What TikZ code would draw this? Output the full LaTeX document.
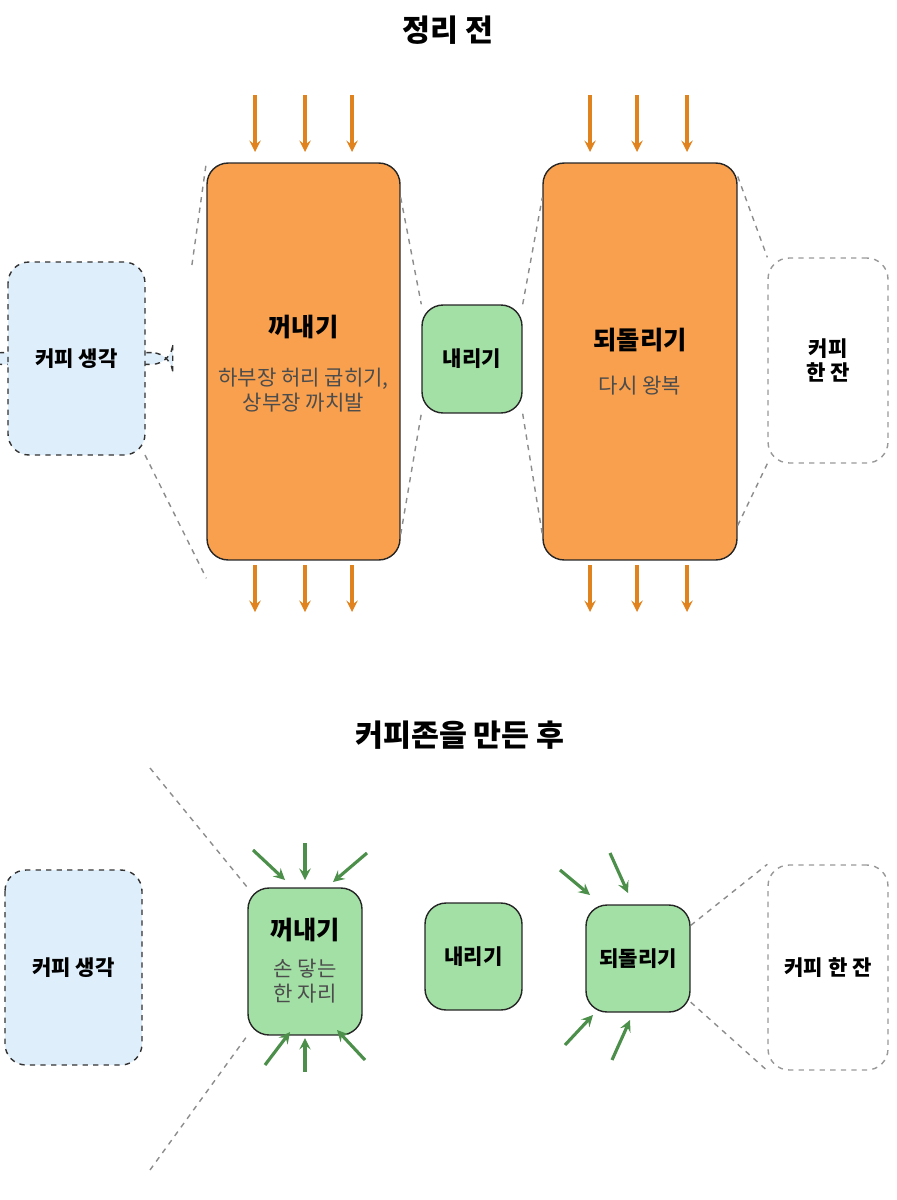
\documentclass[tikz,border=0pt]{standalone}
\usepackage{fontspec}
\setmainfont{Noto Sans CJK KR}
\usetikzlibrary{positioning}
\definecolor{taskorange}{HTML}{F8A04E}
\definecolor{taskgreen}{HTML}{A3E0A6}
\definecolor{ideablue}{HTML}{DFEEFB}
\definecolor{arroworange}{HTML}{E0821E}
\definecolor{arrowgreen}{HTML}{4C8F4A}
\begin{document}
\begin{tikzpicture}[x=0.02cm, y=-0.02cm,
    task/.style={draw=black!85, thick, rounded corners=12pt, align=center, inner sep=0pt},
    big/.style={task, fill=taskorange},
    small/.style={task, fill=taskgreen, font=\bfseries\large},
    idea/.style={draw=black!80, thick, dashed, rounded corners=12pt, fill=ideablue,
                 font=\bfseries\large, align=center},
    cup/.style={draw=black!40, thick, dashed, rounded corners=12pt, fill=white,
                font=\bfseries\large, align=center},
    guide/.style={draw=black!45, thick, dashed},
    push/.style={->, line width=1.8pt, arroworange, >=stealth},
    pull/.style={->, line width=1.8pt, arrowgreen, >=stealth},
    title/.style={font=\bfseries\LARGE},
  ]
  \useasboundingbox (0,0) rectangle (896,1200);

  % before
  \node[title] (before) at (448,30) {정리 전};
  \node[idea, minimum width=137\pgflinewidth] (think1) at (76.5,358.5) {};
  \path (8,262) coordinate (t1a) (145,455) coordinate (t1b);
  \draw[idea] (t1a) rectangle (t1b);
  \node[font=\bfseries\large] (think1) at (76.5,358.5) {커피 생각};
  \node[big, minimum width=3.86cm, minimum height=7.94cm] (take1) at (303.5,361.5) {};
  \node[font=\bfseries\Large] (take1t) at (303.5,327) {꺼내기};
  \node[text=black!70, align=center, font=\large] (take1s) at (303.5,390) {하부장 허리 굽히기,\\상부장 까치발};
  \node[small, minimum width=2cm, minimum height=2.16cm] (brew1) at (472,359) {내리기};
  \node[big, minimum width=3.88cm, minimum height=7.94cm] (back1) at (640,361.5) {};
  \node[font=\bfseries\Large] (back1t) at (640,340) {되돌리기};
  \node[text=black!70, font=\large] (back1s) at (640,386) {다시 왕복};
  \node[cup, minimum width=2.4cm, minimum height=4.1cm] (cup1) at (828,360.5) {커피\\한 잔};

  \draw[guide] (think1.north east |- t1a) ++(68,3) -- (take1.north west);
  \draw[guide] (145,455) -- ([yshift=-10]take1.south west);
  \draw[guide] ([yshift=-20]take1.north east) -- (brew1.north west);
  \draw[guide] ([yshift=15]take1.south east) -- (brew1.south west);
  \draw[guide] (brew1.north east) -- ([yshift=-20]back1.north west);
  \draw[guide] (brew1.south east) -- ([yshift=15]back1.south west);
  \draw[guide] ([yshift=-8]back1.north east) -- (cup1.north west);
  \draw[guide] ([yshift=20]back1.south east) -- (cup1.south west);

  \foreach \x in {255,305,352,590,637,687} {
    \coordinate (in\x) at (\x,95);
    \coordinate (inend\x) at (\x,152);
    \coordinate (out\x) at (\x,565);
    \coordinate (outend\x) at (\x,612);
    \draw[push] (in\x) -- (inend\x);
    \draw[push] (out\x) -- (outend\x);
  }

  % after
  \node[title] (after) at (460,735) {커피존을 만든 후};
  \path (5,870) coordinate (t2a) (142,1065) coordinate (t2b);
  \draw[idea] (t2a) rectangle (t2b);
  \node[font=\bfseries\large] (think2) at (73.5,967.5) {커피 생각};
  \node[small, minimum width=2.28cm, minimum height=2.94cm] (take2) at (305,961.5) {};
  \node[font=\bfseries\Large] (take2t) at (305,930) {꺼내기};
  \node[text=black!70, align=center, font=\large] (take2s) at (305,981) {손 닿는\\한 자리};
  \node[small, minimum width=1.94cm, minimum height=2.14cm] (brew2) at (473.5,956.5) {내리기};
  \node[small, minimum width=2.08cm, minimum height=2.14cm] (back2) at (638,958.5) {되돌리기};
  \node[cup, minimum width=2.4cm, minimum height=4.1cm] (cup2) at (828,967.5) {커피 한 잔};

  \coordinate (far1) at (150,768);
  \coordinate (far2) at (150,1170);
  \draw[guide] (far1) -- (take2.north west);
  \draw[guide] (far2) -- (take2.south west);
  \draw[guide] ([yshift=-12]back2.north east) -- (cup2.north west);
  \draw[guide] ([yshift=6]back2.south east) -- (cup2.south west);

  \foreach \a/\b/\c/\d [count=\i] in {253/850/285/880, 305/843/305/880, 367/853/333/882,
      265/1065/290/1032, 305/1072/305/1038, 365/1060/337/1030,
      560/870/590/895, 610/853/628/893, 565/1045/593/1015, 612/1060/630/1020} {
    \coordinate (g\i) at (\a,\b);
    \coordinate (gend\i) at (\c,\d);
    \draw[pull] (g\i) -- (gend\i);
  }
\end{tikzpicture}
\end{document}
